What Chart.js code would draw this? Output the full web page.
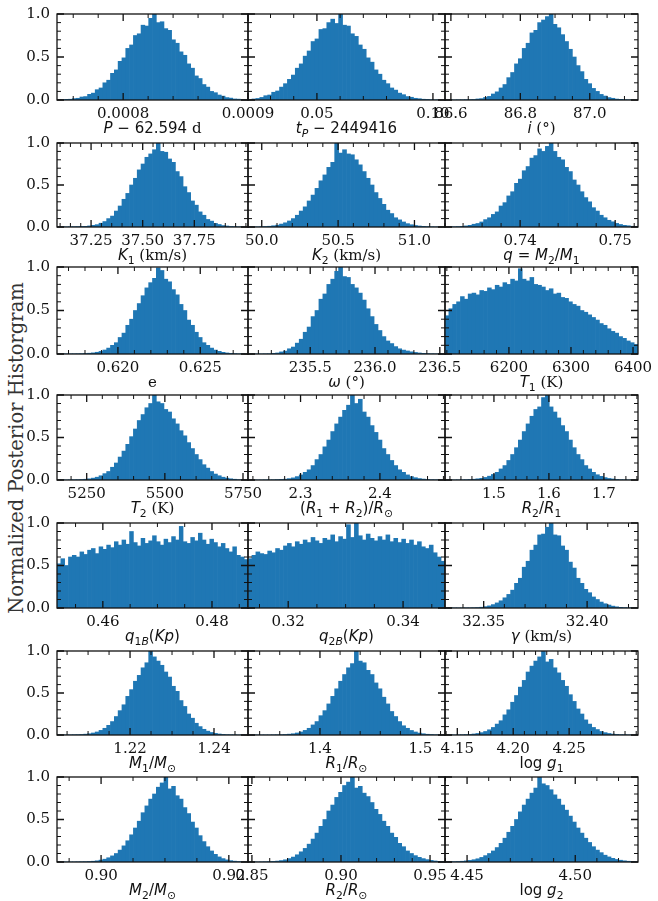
<!DOCTYPE html>
<html>
<head>
<meta charset="utf-8">
<script src="https://cdn.jsdelivr.net/npm/chart.js@4.4.1/dist/chart.umd.min.js"></script>
<style>
  html, body { margin: 0; padding: 0; background: #fff; }
  body { width: 658px; height: 901px; position: relative; overflow: hidden; }
  canvas { position: absolute; }
  #ytitle {
    position: absolute; left: 16px; top: 448px;
    transform: translate(-50%, -50%) rotate(-90deg);
    font: 19.5px "DejaVu Serif"; color: #333; white-space: nowrap;
  }
</style>
</head>
<body>
<div id="ytitle">Normalized Posterior Historgram</div>
<script>
// Normalized posterior histograms (50 bins each, peak-normalized)
const histP      = [0.004,0.003,0.008,0.009,0.016,0.02,0.035,0.04,0.066,0.08,0.12,0.14,0.2,0.23,0.31,0.35,0.45,0.49,0.6,0.64,0.75,0.77,0.87,0.86,0.95,1.0,0.9,0.91,0.83,0.81,0.7,0.66,0.56,0.52,0.42,0.37,0.28,0.25,0.18,0.15,0.1,0.085,0.058,0.045,0.028,0.022,0.012,0.01,0.005,0.004];
const histTp     = [0.006,0.012,0.018,0.03,0.05,0.058,0.09,0.105,0.15,0.19,0.24,0.29,0.37,0.42,0.51,0.57,0.68,0.71,0.82,0.83,0.9,0.94,0.89,1.0,0.87,0.86,0.77,0.74,0.64,0.59,0.49,0.44,0.35,0.3,0.23,0.19,0.14,0.115,0.08,0.062,0.04,0.032,0.02,0.015,0.009,0.007,0.004,0.003,0.002,0.001];
const histIncl   = [0.001,0.001,0.001,0.002,0.003,0.004,0.005,0.006,0.012,0.016,0.03,0.042,0.07,0.095,0.14,0.18,0.26,0.32,0.42,0.48,0.6,0.66,0.78,0.81,0.9,0.93,0.97,1.0,0.88,0.84,0.76,0.68,0.59,0.5,0.4,0.33,0.24,0.19,0.135,0.1,0.065,0.046,0.028,0.02,0.011,0.008,0.004,0.003,0.002,0.001];
const histK1     = [0.001,0.002,0.002,0.003,0.004,0.005,0.007,0.008,0.013,0.02,0.028,0.045,0.065,0.1,0.13,0.19,0.25,0.33,0.4,0.5,0.58,0.68,0.75,0.83,0.87,0.92,1.0,0.9,0.89,0.81,0.77,0.66,0.6,0.48,0.41,0.31,0.26,0.18,0.14,0.09,0.07,0.043,0.03,0.017,0.012,0.006,0.005,0.003,0.002,0.001];
const histK2     = [0.001,0.001,0.002,0.004,0.006,0.009,0.015,0.022,0.035,0.05,0.072,0.1,0.14,0.19,0.24,0.31,0.38,0.46,0.55,0.62,0.71,0.77,1.0,0.88,0.92,0.87,0.86,0.8,0.74,0.66,0.58,0.5,0.41,0.34,0.27,0.2,0.16,0.11,0.085,0.06,0.04,0.027,0.018,0.012,0.008,0.005,0.003,0.002,0.001,0.001];
const histQ      = [0.001,0.002,0.003,0.005,0.008,0.013,0.02,0.033,0.042,0.06,0.088,0.11,0.15,0.18,0.25,0.29,0.37,0.42,0.52,0.57,0.67,0.72,0.82,0.85,0.93,0.9,0.96,1.0,0.9,0.83,0.8,0.71,0.66,0.56,0.5,0.42,0.35,0.3,0.23,0.19,0.14,0.11,0.08,0.062,0.043,0.03,0.02,0.015,0.009,0.006];
const histEcc    = [0.001,0.001,0.002,0.002,0.002,0.003,0.004,0.006,0.009,0.013,0.02,0.03,0.046,0.068,0.1,0.13,0.19,0.24,0.33,0.4,0.5,0.58,0.67,0.76,0.82,0.87,0.99,0.96,0.86,0.83,0.74,0.68,0.57,0.5,0.39,0.33,0.25,0.19,0.13,0.1,0.068,0.045,0.031,0.019,0.012,0.008,0.005,0.003,0.002,0.001];
const histOmega  = [0.001,0.001,0.001,0.001,0.002,0.003,0.008,0.012,0.024,0.034,0.06,0.08,0.125,0.17,0.25,0.31,0.43,0.5,0.63,0.69,0.8,0.86,0.95,1.0,0.89,0.88,0.8,0.76,0.7,0.62,0.52,0.43,0.34,0.27,0.2,0.15,0.12,0.085,0.06,0.045,0.035,0.025,0.018,0.012,0.008,0.005,0.003,0.002,0.001,0.001];
const histT1     = [0.44,0.52,0.57,0.6,0.66,0.63,0.69,0.7,0.68,0.73,0.72,0.76,0.74,0.79,0.77,0.82,0.8,0.86,0.84,0.98,0.86,0.84,0.88,0.8,0.79,0.77,0.73,0.75,0.69,0.7,0.65,0.64,0.6,0.57,0.55,0.5,0.48,0.45,0.42,0.39,0.35,0.33,0.29,0.26,0.24,0.2,0.18,0.15,0.13,0.11];
const histT2     = [0.001,0.001,0.001,0.002,0.003,0.004,0.006,0.009,0.014,0.022,0.033,0.05,0.075,0.1,0.15,0.2,0.27,0.34,0.42,0.51,0.6,0.7,0.77,0.85,0.9,1.0,0.92,0.9,0.83,0.8,0.72,0.66,0.58,0.52,0.44,0.37,0.3,0.24,0.18,0.14,0.1,0.07,0.05,0.033,0.022,0.014,0.009,0.005,0.003,0.002];
const histRsum   = [0.001,0.001,0.001,0.001,0.002,0.002,0.003,0.005,0.007,0.01,0.016,0.025,0.04,0.06,0.09,0.12,0.17,0.24,0.3,0.39,0.47,0.57,0.66,0.74,0.82,0.88,1.0,0.9,0.95,0.8,0.74,0.64,0.56,0.47,0.37,0.3,0.23,0.17,0.12,0.09,0.06,0.04,0.027,0.017,0.011,0.007,0.004,0.003,0.002,0.001];
const histRratio = [0.001,0.001,0.001,0.002,0.003,0.004,0.006,0.009,0.014,0.02,0.03,0.045,0.065,0.09,0.13,0.17,0.23,0.3,0.38,0.47,0.57,0.66,0.75,0.83,0.86,0.97,1.0,0.86,0.8,0.73,0.64,0.57,0.47,0.38,0.3,0.24,0.17,0.13,0.09,0.062,0.043,0.028,0.018,0.012,0.007,0.004,0.003,0.002,0.001,0.001];
const histQ1B    = [0.52,0.58,0.5,0.6,0.62,0.6,0.66,0.63,0.68,0.7,0.64,0.72,0.69,0.74,0.71,0.78,0.74,0.8,0.75,0.9,0.77,0.73,0.82,0.76,0.79,0.85,0.78,0.74,0.81,0.77,0.84,0.8,0.96,0.78,0.76,0.83,0.79,0.88,0.8,0.75,0.81,0.77,0.72,0.76,0.7,0.66,0.72,0.62,0.6,0.57];
const histQ2B    = [0.58,0.62,0.66,0.64,0.63,0.67,0.65,0.7,0.68,0.73,0.76,0.72,0.78,0.75,0.8,0.77,0.83,0.79,0.76,0.82,0.8,0.86,0.78,0.84,0.81,0.98,0.83,1.0,0.85,0.8,0.87,0.82,0.79,0.84,0.8,0.86,0.78,0.82,0.77,0.81,0.76,0.8,0.74,0.78,0.72,0.7,0.74,0.65,0.6,0.55];
const histGamma  = [0.001,0.001,0.001,0.001,0.001,0.002,0.002,0.003,0.005,0.009,0.016,0.025,0.04,0.06,0.085,0.12,0.16,0.21,0.29,0.35,0.48,0.55,0.68,0.74,0.86,0.87,0.95,1.0,0.86,0.85,0.73,0.68,0.54,0.47,0.35,0.29,0.22,0.18,0.13,0.1,0.07,0.05,0.035,0.022,0.014,0.008,0.005,0.003,0.002,0.001];
const histM1     = [0.001,0.001,0.001,0.002,0.003,0.004,0.006,0.01,0.015,0.024,0.036,0.055,0.08,0.115,0.16,0.22,0.29,0.36,0.46,0.54,0.64,0.71,0.8,0.86,1.0,0.93,0.88,0.83,0.75,0.69,0.58,0.52,0.41,0.34,0.25,0.2,0.14,0.1,0.068,0.046,0.03,0.019,0.012,0.007,0.004,0.003,0.002,0.001,0.001,0.001];
const histR1     = [0.001,0.001,0.001,0.001,0.001,0.001,0.002,0.003,0.004,0.006,0.01,0.015,0.024,0.036,0.055,0.08,0.12,0.16,0.23,0.29,0.37,0.46,0.55,0.64,0.72,0.8,0.85,1.0,0.88,0.86,0.77,0.72,0.62,0.55,0.45,0.37,0.28,0.22,0.16,0.11,0.08,0.054,0.036,0.023,0.015,0.009,0.006,0.003,0.002,0.001];
const histLogg1  = [0.001,0.001,0.001,0.002,0.003,0.005,0.007,0.012,0.018,0.028,0.042,0.062,0.09,0.13,0.17,0.24,0.3,0.39,0.47,0.57,0.65,0.75,0.82,0.88,0.93,1.0,0.87,0.9,0.8,0.74,0.65,0.58,0.48,0.4,0.31,0.25,0.18,0.13,0.09,0.065,0.042,0.028,0.018,0.011,0.007,0.004,0.003,0.002,0.001,0.001];
const histM2     = [0.001,0.001,0.001,0.001,0.001,0.002,0.003,0.004,0.006,0.009,0.014,0.022,0.033,0.05,0.072,0.1,0.14,0.19,0.25,0.32,0.4,0.48,0.58,0.66,0.74,0.8,0.88,0.93,1.0,0.86,0.89,0.78,0.74,0.64,0.57,0.47,0.4,0.31,0.24,0.18,0.13,0.09,0.06,0.04,0.025,0.016,0.01,0.006,0.003,0.002];
const histR2     = [0.001,0.001,0.001,0.002,0.003,0.005,0.007,0.011,0.017,0.026,0.04,0.058,0.085,0.12,0.16,0.21,0.27,0.34,0.42,0.5,0.6,0.67,0.76,0.82,0.9,0.94,1.0,0.87,0.89,0.81,0.77,0.7,0.62,0.56,0.48,0.42,0.34,0.29,0.22,0.18,0.13,0.1,0.075,0.055,0.04,0.028,0.019,0.012,0.008,0.005];
const histLogg2  = [0.002,0.003,0.004,0.006,0.009,0.013,0.019,0.027,0.038,0.054,0.075,0.1,0.13,0.17,0.22,0.28,0.35,0.42,0.5,0.59,0.67,0.74,0.81,0.87,1.0,0.92,0.9,0.85,0.79,0.74,0.67,0.61,0.54,0.47,0.4,0.34,0.28,0.23,0.18,0.14,0.11,0.08,0.06,0.043,0.03,0.021,0.014,0.009,0.006,0.004];

// Parameter order, left-to-right, top-to-bottom
const histograms = [histP, histTp, histIncl, histK1, histK2, histQ, histEcc, histOmega, histT1,
                    histT2, histRsum, histRratio, histQ1B, histQ2B, histGamma, histM1, histR1, histLogg1,
                    histM2, histR2, histLogg2];

// Histogram ranges (parameter units)
const xMin = [0.000747, 0.0203, 86.583, 37.085, 49.91, 0.7321, 0.6163, 235.02, 6097,
              5155, 2.2338, 1.411, 0.4516, 0.3130, 32.3313, 1.2026, 1.3284, 4.139,
              0.8931, 0.8478, 4.4398];
const xMax = [0.0009, 0.1052, 87.139, 38.01, 51.2, 0.7524, 0.6279, 236.54, 6408,
              5766, 2.482, 1.762, 0.4866, 0.3473, 32.4246, 1.2481, 1.5244, 4.3116,
              0.923, 0.9584, 4.529];

// Labelled x ticks and their text
const xMajorTicks = [[0.0008, 0.0009], [0.05, 0.10], [86.6, 86.8, 87.0], [37.25, 37.5, 37.75], [50, 50.5, 51], [0.74, 0.75],
                     [0.62, 0.625], [235.5, 236, 236.5], [6200, 6300, 6400], [5250, 5500, 5750], [2.3, 2.4], [1.5, 1.6, 1.7],
                     [0.46, 0.48], [0.32, 0.34], [32.35, 32.40], [1.22, 1.24], [1.4, 1.5], [4.15, 4.2, 4.25],
                     [0.90, 0.92], [0.85, 0.90, 0.95], [4.45, 4.50]];
const xTickLabels = [["0.0008", "0.0009"], ["0.05", "0.10"], ["86.6", "86.8", "87.0"], ["37.25", "37.50", "37.75"], ["50.0", "50.5", "51.0"], ["0.74", "0.75"],
                     ["0.620", "0.625"], ["235.5", "236.0", "236.5"], ["6200", "6300", "6400"], ["5250", "5500", "5750"], ["2.3", "2.4"], ["1.5", "1.6", "1.7"],
                     ["0.46", "0.48"], ["0.32", "0.34"], ["32.35", "32.40"], ["1.22", "1.24"], ["1.4", "1.5"], ["4.15", "4.20", "4.25"],
                     ["0.90", "0.92"], ["0.85", "0.90", "0.95"], ["4.45", "4.50"]];
const xMinorStep = [0.00002, 0.01, 0.05, 0.05, 0.1, 0.002, 0.001, 0.1, 20, 50, 0.02, 0.02,
                    0.005, 0.005, 0.01, 0.005, 0.02, 0.01, 0.005, 0.01, 0.01];

const yMajorTicks = [0, 0.5, 1.0];
const yTickLabels = ["0.0", "0.5", "1.0"];
const yMinorStep = 0.1;

// Axis titles: [style, text]; s = serif text, i = math italic, r = math upright,
// n = upright subscript, b = italic subscript
const axisTitles = [
  [['i','P'],['r',' \u2212 62.594'],['s',' d']],
  [['i','t'],['b','P'],['r',' \u2212 2449416']],
  [['i','i'],['s',' (\u00b0)']],
  [['i','K'],['n','1'],['s',' (km/s)']],
  [['i','K'],['n','2'],['s',' (km/s)']],
  [['i','q'],['r',' = '],['i','M'],['n','2'],['r','/'],['i','M'],['n','1']],
  [['s','e']],
  [['i','\u03c9'],['s',' (\u00b0)']],
  [['i','T'],['n','1'],['s',' (K)']],
  [['i','T'],['n','2'],['s',' (K)']],
  [['r','('],['i','R'],['n','1'],['r',' + '],['i','R'],['n','2'],['r',')/'],['i','R'],['n','\u2299']],
  [['i','R'],['n','2'],['r','/'],['i','R'],['n','1']],
  [['i','q'],['n','1'],['b','B'],['r','('],['i','Kp'],['r',')']],
  [['i','q'],['n','2'],['b','B'],['r','('],['i','Kp'],['r',')']],
  [['i','\u03b3'],['s',' (km/s)']],
  [['i','M'],['n','1'],['r','/'],['i','M'],['n','\u2299']],
  [['i','R'],['n','1'],['r','/'],['i','R'],['n','\u2299']],
  [['r','log '],['i','g'],['n','1']],
  [['i','M'],['n','2'],['r','/'],['i','M'],['n','\u2299']],
  [['i','R'],['n','2'],['r','/'],['i','R'],['n','\u2299']],
  [['r','log '],['i','g'],['n','2']]
];

// Page layout of the 7x3 grid of plot areas
const colLeft  = [57, 248, 445];
const colRight = [248, 445, 638];
const rowTop    = [14, 143, 267, 395, 523, 651, 777];
const rowBottom = [100, 227, 354, 480, 608, 735, 862];

const BAR_COLOR = '#1f77b4';
const INK = '#111';
const TICK_FONT = { family: 'DejaVu Serif', size: 15 };
const TITLE_SIZE = 15;

function drawRichText(ctx, segs, cx, baseline, size) {
  const parts = segs.map(([kind, text]) => {
    const sub = kind === 'n' || kind === 'b';
    const fs = sub ? size * 0.72 : size;
    const italic = kind === 'i' || kind === 'b';
    const family = kind === 's' ? '"DejaVu Serif"' : '"DejaVu Sans"';
    const font = (italic ? 'italic ' : '') + fs + 'px ' + family;
    ctx.font = font;
    return { text, font, w: ctx.measureText(text).width, dy: sub ? size * 0.27 : 0 };
  });
  const total = parts.reduce((s, p) => s + p.w, 0);
  let x = cx - total / 2;
  ctx.textAlign = 'left';
  ctx.textBaseline = 'alphabetic';
  for (const p of parts) {
    ctx.font = p.font;
    ctx.fillText(p.text, x, baseline + p.dy);
    x += p.w;
  }
}

function stepValues(min, max, step) {
  const out = [];
  const k0 = Math.ceil(min / step - 1e-9), k1 = Math.floor(max / step + 1e-9);
  for (let k = k0; k <= k1; k++) out.push(k * step);
  return out;
}

// Box frame, inward major/minor ticks on all four sides, and the x-axis title
const frameTicks = {
  id: 'frameTicks',
  afterDatasetsDraw(chart, args, opts) {
    const { ctx, chartArea: a } = chart;
    const xs = chart.scales.x, ys = chart.scales.y;
    const MAJ = 7, MIN = 4;
    ctx.save();
    ctx.strokeStyle = INK;
    ctx.lineCap = 'butt';
    const xTick = (v, len, lw) => {
      const px = xs.getPixelForValue(v);
      if (px < a.left - 0.5 || px > a.right + 0.5) return;
      ctx.lineWidth = lw;
      ctx.beginPath();
      ctx.moveTo(px, a.bottom); ctx.lineTo(px, a.bottom - len);
      ctx.moveTo(px, a.top); ctx.lineTo(px, a.top + len);
      ctx.stroke();
    };
    const yTick = (v, len, lw) => {
      const py = ys.getPixelForValue(v);
      ctx.lineWidth = lw;
      ctx.beginPath();
      ctx.moveTo(a.left, py); ctx.lineTo(a.left + len, py);
      ctx.moveTo(a.right, py); ctx.lineTo(a.right - len, py);
      ctx.stroke();
    };
    const isMajor = (v, list, step) => list.some(m => Math.abs(m - v) < step * 1e-3);
    stepValues(xs.min, xs.max, opts.minorStep).forEach(v => {
      if (!isMajor(v, opts.majors, opts.minorStep)) xTick(v, MIN, 1);
    });
    opts.majors.forEach(v => xTick(v, MAJ, 1.3));
    stepValues(0, 1, yMinorStep).forEach(v => {
      if (!isMajor(v, yMajorTicks, yMinorStep)) yTick(v, MIN, 1);
    });
    yMajorTicks.forEach(v => yTick(v, MAJ, 1.3));
    ctx.lineWidth = 1.3;
    ctx.strokeRect(a.left, a.top, a.right - a.left, a.bottom - a.top);
    ctx.fillStyle = INK;
    drawRichText(ctx, opts.title, (a.left + a.right) / 2, a.bottom + 33, TITLE_SIZE);
    ctx.restore();
  }
};

function makePanel(idx) {
  const r = Math.floor(idx / 3), c = idx % 3;
  const left = colLeft[c], right = colRight[c], top = rowTop[r], bottom = rowBottom[r];
  const padL = c === 0 ? left : 32;
  const padR = 34, padT = 10, padB = 44;
  const W = padL + (right - left) + padR;
  const H = padT + (bottom - top) + padB;
  const cv = document.createElement('canvas');
  cv.width = W; cv.height = H;
  cv.style.left = (left - padL) + 'px';
  cv.style.top = (top - padT) + 'px';
  cv.style.width = W + 'px';
  cv.style.height = H + 'px';
  document.body.appendChild(cv);

  const values = histograms[idx];
  const lo = xMin[idx], hi = xMax[idx];
  const binW = (hi - lo) / values.length;
  const points = values.map((v, i) => ({ x: lo + (i + 0.5) * binW, y: v }));
  const majors = xMajorTicks[idx];
  const labels = xTickLabels[idx];

  new Chart(cv, {
    type: 'bar',
    data: {
      datasets: [{
        data: points,
        backgroundColor: BAR_COLOR,
        borderWidth: 0,
        barPercentage: 1,
        categoryPercentage: 1
      }]
    },
    options: {
      responsive: false,
      animation: false,
      devicePixelRatio: 1,
      layout: { padding: { left: c === 0 ? 0 : padL, right: padR, top: padT, bottom: 0 } },
      plugins: {
        legend: { display: false },
        tooltip: { enabled: false },
        frameTicks: { majors, minorStep: xMinorStep[idx], title: axisTitles[idx] }
      },
      scales: {
        x: {
          type: 'linear', min: lo, max: hi, offset: false, bounds: 'data',
          grid: { display: false, drawTicks: false, offset: false },
          border: { display: false },
          ticks: {
            font: TICK_FONT, color: INK, padding: 5, maxRotation: 0, autoSkip: false,
            callback: (v, i) => labels[i]
          },
          afterBuildTicks: s => { s.ticks = majors.map(v => ({ value: v })); },
          afterFit: s => { s.height = padB; s.paddingLeft = 0; s.paddingRight = 0; }
        },
        y: {
          display: c === 0, min: 0, max: 1, bounds: 'data',
          grid: { display: false, drawTicks: false },
          border: { display: false },
          ticks: {
            font: TICK_FONT, color: INK, padding: 7,
            callback: (v, i) => yTickLabels[i]
          },
          afterBuildTicks: s => { s.ticks = yMajorTicks.map(v => ({ value: v })); },
          afterFit: s => { s.width = c === 0 ? padL : 0; s.paddingTop = 0; s.paddingBottom = 0; }
        }
      }
    },
    plugins: [frameTicks]
  });
}

for (let i = 0; i < histograms.length; i++) makePanel(i);
</script>
</body>
</html>
